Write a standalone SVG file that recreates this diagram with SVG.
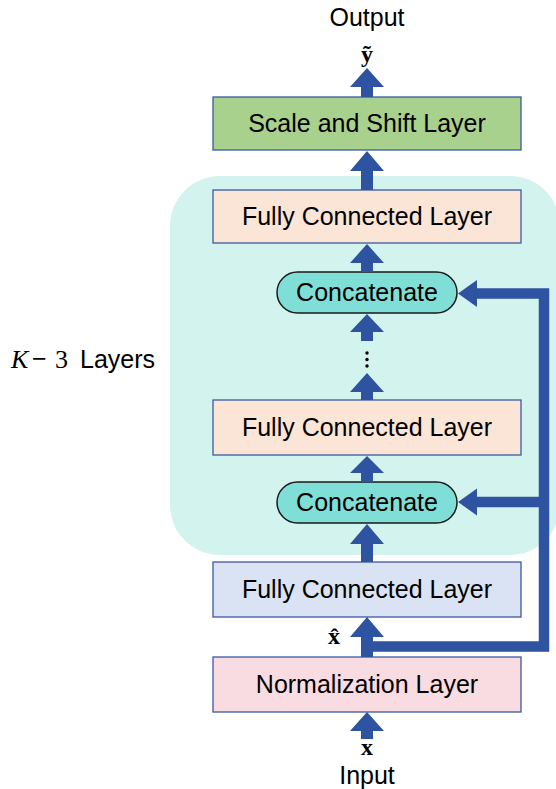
<svg xmlns="http://www.w3.org/2000/svg" width="556" height="789" viewBox="0 0 556 789">
<style>
.lbl{font-family:"Liberation Sans",Arial,sans-serif;font-size:25px;fill:#000;text-anchor:middle}
.math{font-family:"Liberation Serif","Times New Roman",serif;font-weight:bold;font-size:24px;fill:#000;text-anchor:middle}
.box{stroke:#3A5AA0;stroke-width:1.3}
.cat{fill:#7FDFD7;stroke:#1A1A1A;stroke-width:1.5}
.arr{fill:#2E54A1}
.fb{fill:none;stroke:#2E54A1;stroke-width:10.5;stroke-linejoin:miter}
</style>
<rect id="group-bg" x="170" y="176" width="390" height="379" rx="50" fill="#D3F3EF"/>
<g id="output-label">
<text class="lbl" x="367" y="26">Output</text>
<text class="math" x="367" y="62" font-size="27">ỹ</text>
</g>
<g id="scale-shift">
<rect class="box" x="213" y="97" width="308" height="53" fill="#A9D18E"/>
<text class="lbl" x="367" y="132">Scale and Shift Layer</text>
</g>
<g id="fc1">
<rect class="box" x="213" y="190" width="308" height="53" fill="#FBE5D6"/>
<text class="lbl" x="367" y="225">Fully Connected Layer</text>
</g>
<g id="concat1">
<rect class="cat" x="277" y="272" width="180" height="41" rx="20.5"/>
<text class="lbl" x="367" y="301">Concatenate</text>
</g>
<g id="dots">
<circle cx="367" cy="353" r="1.7" fill="#000"/>
<circle cx="367" cy="359.5" r="1.7" fill="#000"/>
<circle cx="367" cy="366" r="1.7" fill="#000"/>
</g>
<g id="fc2">
<rect class="box" x="213" y="400" width="308" height="55" fill="#FBE5D6"/>
<text class="lbl" x="367" y="436">Fully Connected Layer</text>
</g>
<g id="concat2">
<rect class="cat" x="277" y="482" width="180" height="41" rx="20.5"/>
<text class="lbl" x="367" y="511">Concatenate</text>
</g>
<g id="fc3">
<rect class="box" x="213" y="562" width="308" height="55" fill="#DAE3F3"/>
<text class="lbl" x="367" y="598">Fully Connected Layer</text>
</g>
<g id="norm">
<rect class="box" x="213" y="657" width="308" height="55" fill="#F9DCE1"/>
<text class="lbl" x="367" y="693">Normalization Layer</text>
</g>
<g id="input-label">
<text class="math" x="367" y="755" font-size="23">x</text>
<text class="lbl" x="367" y="784">Input</text>
</g>
<g id="group-label">
<text x="11" y="368" font-family="'Liberation Serif','Times New Roman',serif" font-size="26" font-style="italic">K</text>
<text x="32" y="367" font-family="'Liberation Sans',Arial,sans-serif" font-size="25">−</text>
<text x="55" y="368" font-family="'Liberation Serif','Times New Roman',serif" font-size="26">3</text>
<text x="80" y="368" font-family="'Liberation Sans',Arial,sans-serif" font-size="25">Layers</text>
</g>
<g id="xhat-label">
<text class="math" x="334" y="644">x̂</text>
</g>
<g id="connectors">
<polygon class="arr" points="367,68 384,87 373,87 373,97 361,97 361,87 350,87"/>
<polygon class="arr" points="367,151 384,171 373,171 373,190 361,190 361,171 350,171"/>
<polygon class="arr" points="367,244 384,263 373,263 373,272 361,272 361,263 350,263"/>
<polygon class="arr" points="367,314 384,332 373,332 373,341 361,341 361,332 350,332"/>
<polygon class="arr" points="367,373 384,392 373,392 373,400 361,400 361,392 350,392"/>
<polygon class="arr" points="367,456 384,473 373,473 373,482 361,482 361,473 350,473"/>
<polygon class="arr" points="367,524 384,544 373,544 373,562 361,562 361,544 350,544"/>
<polygon class="arr" points="367,617 384,637 373,637 373,657 361,657 361,637 350,637"/>
<polygon class="arr" points="367,712 384,731 373,731 373,739 361,739 361,731 350,731"/>
<path class="fb" d="M367,646.5 H544 V293.5 H476"/>
<path class="fb" d="M544,502 H476"/>
<polygon class="arr" points="458,293.5 477,280 477,307"/>
<polygon class="arr" points="458,502 477,488.5 477,515.5"/>
</g>
</svg>
